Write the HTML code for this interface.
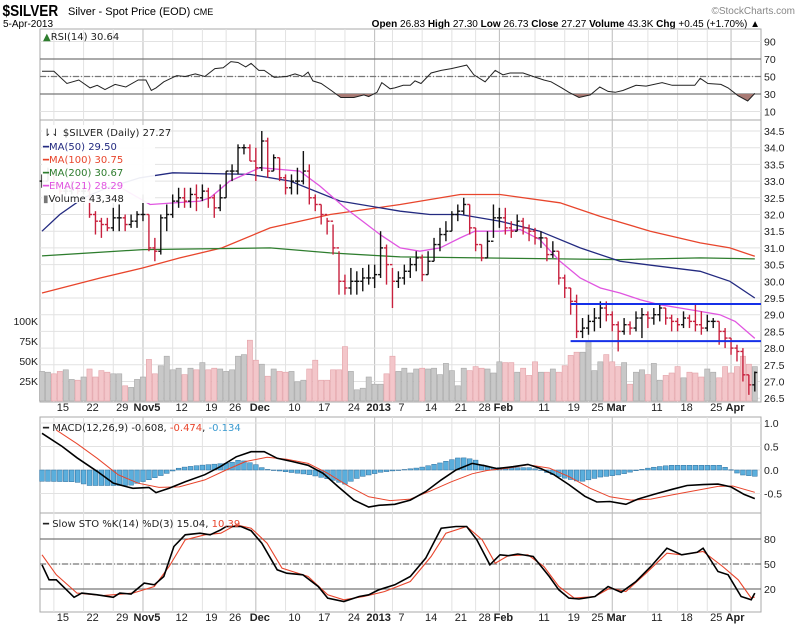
<!DOCTYPE html>
<html><head><meta charset="utf-8"><style>
html,body{margin:0;padding:0;background:#fff;}
svg{display:block;font-family:"Liberation Sans",sans-serif;}
.ax{font-size:10.5px;fill:#222;}
.lg{font-family:"DejaVu Sans",sans-serif;font-size:10px;fill:#222;}
.dt{font-size:11px;fill:#222;}
.mb{font-weight:bold;}
</style></head><body>
<svg id="chart" width="800" height="628" viewBox="0 0 800 628">
<g id="hdr">
<text x="3" y="16" font-size="16" font-weight="bold" transform="scale(0.85,1)">$SILVER</text>
<text x="68" y="15" font-size="11">Silver - Spot Price (EOD) <tspan font-size="9">CME</tspan></text>
<text x="795" y="14" font-size="10" fill="#888" text-anchor="end">©StockCharts.com</text>
<text x="3" y="27" font-size="10">5-Apr-2013</text>
<text x="760" y="27" font-size="10" text-anchor="end"><tspan font-weight="bold">Open</tspan> 26.83 <tspan font-weight="bold">High</tspan> 27.30 <tspan font-weight="bold">Low</tspan> 26.73 <tspan font-weight="bold">Close</tspan> 27.27 <tspan font-weight="bold">Volume</tspan> 43.3K <tspan font-weight="bold">Chg</tspan> +0.45 (+1.70%) ▲</text>
</g>
<g id="grid"></g>
<g id="marks"></g>
<g id="labels"></g>
</svg>
<script>
const closes=[33.0,33.2,32.9,32.7,32.7,32.8,32.7,32.7,32.0,31.8,31.7,31.6,31.9,31.9,31.7,31.8,32.0,32.0,31.0,30.9,
31.9,32.0,32.4,32.5,32.4,32.6,32.5,32.7,32.5,32.2,32.5,33.3,33.3,34.0,34.0,33.6,33.4,34.2,33.3,33.7,
33.1,32.8,33.0,33.0,33.3,32.5,32.3,32.0,31.8,31.0,30.0,29.8,30.0,30.0,30.1,30.1,30.2,31.0,30.5,30.0,
30.1,30.3,30.5,30.7,30.2,30.6,31.1,31.4,31.5,32.0,32.1,32.3,31.6,31.1,30.7,31.2,31.9,31.9,31.6,31.5,
31.8,31.6,31.5,31.3,31.3,30.8,30.9,30.1,29.8,29.4,28.5,28.6,28.8,28.9,29.2,29.0,28.7,28.5,28.7,28.6,
28.9,29.0,28.9,29.0,29.2,28.9,28.8,28.7,28.9,28.8,28.7,28.6,28.8,28.8,28.5,28.3,28.0,27.9,27.2,26.9,27.27];
const highs=[33.2,33.4,33.3,32.9,32.9,33.0,32.9,32.9,32.8,32.1,31.9,31.9,32.2,32.3,32.0,32.0,32.1,32.6,32.0,31.3,
32.0,32.3,32.6,32.8,32.8,32.8,32.9,32.9,32.8,32.6,32.9,33.3,33.5,34.1,34.1,34.1,34.0,34.5,34.3,33.8,
33.7,33.2,33.2,33.4,33.9,33.5,32.6,32.3,31.9,31.7,30.9,30.2,30.4,30.3,30.4,30.5,30.5,31.5,31.1,30.4,
30.3,30.5,30.7,30.9,30.8,30.9,31.3,31.6,31.8,32.1,32.3,32.5,32.3,31.6,31.1,31.5,32.3,32.2,32.2,31.8,
32.0,31.9,31.7,31.6,31.5,31.3,31.2,30.9,30.2,29.8,29.6,28.9,29.0,29.2,29.4,29.4,29.1,28.8,28.9,28.8,
29.1,29.2,29.1,29.2,29.3,29.2,29.0,28.9,29.1,29.0,29.3,29.1,29.0,28.9,28.8,28.6,28.3,28.1,28.0,27.2,27.3];
const lows=[32.8,33.0,32.8,32.6,32.6,32.6,32.6,32.6,31.9,31.4,31.3,31.5,31.5,31.5,31.5,31.6,31.6,31.8,30.9,30.6,
30.8,31.5,31.9,32.2,32.2,32.2,32.1,32.4,32.2,31.9,32.1,32.5,33.0,33.2,33.8,33.6,33.0,33.3,33.1,33.3,
33.0,32.6,32.6,32.6,32.9,32.3,32.1,31.7,31.4,30.8,29.6,29.6,29.6,29.6,29.7,29.9,29.8,30.1,29.9,29.2,
29.8,29.9,30.1,30.3,30.0,30.2,30.6,30.9,31.2,31.5,31.8,32.0,31.4,30.9,30.6,30.7,31.3,31.6,31.4,31.3,
31.5,31.4,31.2,31.1,31.0,30.6,30.7,29.9,29.5,29.0,28.3,28.3,28.4,28.5,28.6,28.8,28.5,27.9,28.4,28.4,
28.5,28.3,28.6,28.7,28.8,28.7,28.5,28.5,28.6,28.6,28.5,28.4,28.5,28.6,28.1,28.0,27.8,27.6,27.0,26.6,26.7];
const volumes=[37,36,34,37,39,27,26,30,40,30,38,36,34,34,19,17,27,30,52,34,
44,56,39,41,33,41,39,48,39,41,40,37,39,56,58,76,51,46,31,40,
37,36,37,24,26,40,51,26,26,39,39,68,37,14,16,30,21,21,34,56,
37,41,35,40,41,40,41,33,47,38,19,41,38,43,41,40,35,49,48,48,
36,41,32,49,36,36,40,36,44,57,61,61,74,38,49,58,49,43,48,21,
36,39,33,47,26,32,35,43,29,36,35,30,40,36,29,43,35,43,56,46,43];
const ma50Idx=[0,3,7,11,16.5,22,35,41.8,50.2,60.3,65.3,70.4,77.1,83.8,90.6,97.3,104,110.8,115.8,120];
const ma50Val=[31.5,32.0,32.5,32.8,33.1,33.25,33.2,33.0,32.4,32.1,32.0,32.0,31.8,31.5,31.0,30.6,30.45,30.3,30.0,29.5];
const ma100Idx=[0,9.8,17,23.2,30.3,38.4,48.5,60.3,70.4,77.1,87.2,93.9,102.4,110.8,115.8,120];
const ma100Val=[29.65,30.1,30.4,30.7,31.0,31.6,32.0,32.3,32.6,32.6,32.35,31.95,31.5,31.15,31.0,30.75];
const ma200Idx=[0,17,38.4,48.5,60.3,87.2,97.3,110.8,120];
const ma200Val=[30.76,30.95,31.0,30.85,30.73,30.67,30.65,30.7,30.67];
const emaIdx=[12.3,18.2,26.6,28.3,31.6,36.7,43.4,46.8,51,56.9,60.3,63.6,67,70.4,72.9,77.1,80.5,83.8,87.2,90.6,94,97.3,100.7,104,107.4,110.8,114.1,116.7,120];
const emaVal=[32.9,32.3,32.4,32.5,33.0,33.4,33.3,32.85,32.2,31.4,31.0,30.9,31.0,31.3,31.5,31.5,31.55,31.25,30.6,30.1,29.8,29.65,29.45,29.3,29.2,29.1,29.0,28.8,28.29];
const rsiIdx=[0,2,4.2,6.2,8.1,9.3,10.6,12.3,14.1,16.2,17.5,18.4,19.2,20.5,22.7,24.1,25.8,27.4,29.1,30.5,31.8,33,34.3,35.2,36.5,37.4,39.1,41.2,42.6,43.9,44.8,45.6,47,48.7,50.3,52.5,54.2,55,56.4,57.2,58.6,59.4,60.8,62,62.8,63.8,65.5,67.2,68.9,70.2,71.5,72.7,74.6,76.3,77.6,78.8,81,82.7,84.5,85.7,87.5,88.7,90.4,92.3,93.9,95.3,96.5,97.8,100,101.7,104.4,106.1,108.2,109.9,110.8,112.1,114.3,115.5,117.2,118.8,120];
const rsiVal=[56,56,42,46,37,40,35,41,38,46,46,34,37,44,51,50,53,50,59,60,67,66,61,65,57,57,49,50,53,50,55,45,42,34,26,26,29,27,32,43,36,37,40,40,45,42,54,57,59,61,63,52,44,57,52,54,54,50,46,44,37,32,26,29,38,33,32,34,40,39,43,40,40,40,48,42,41,37,28,22,30.64];
const macdIdx=[0,3.4,5.9,9.3,12,15.3,18,19.2,21.4,24.1,27.4,30,32.7,35.2,37.4,39.6,42.1,44.8,47.3,49.8,52.5,55,56.7,59.4,62,64.6,67.2,69.7,72.4,74.6,76.6,79.3,81.8,84,86.2,88.7,91.4,93.4,95.6,98.3,100.3,103,106.1,108.6,111.3,113.8,116,118.2,120];
const macdVal=[0.78,0.50,0.26,-0.03,-0.28,-0.39,-0.37,-0.48,-0.39,-0.25,-0.10,0.07,0.28,0.39,0.39,0.25,0.18,0.10,-0.07,-0.35,-0.64,-0.79,-0.75,-0.73,-0.64,-0.46,-0.21,0,0.14,0.09,0.03,0.07,0.12,0.03,-0.10,-0.31,-0.56,-0.68,-0.67,-0.73,-0.62,-0.52,-0.41,-0.33,-0.31,-0.30,-0.36,-0.52,-0.608];
const sigIdx=[2.4,5.9,9.3,12.8,16.2,19.7,23.1,27.4,31,34.3,37.9,41.2,44.8,48.1,51.7,55,58.6,62,65.5,68.9,72.4,74.9,78.5,81.8,85.4,88.7,92.3,95.6,99.2,102.5,106.1,110.3,113.8,116.3,120];
const sigVal=[0.85,0.56,0.25,-0.10,-0.28,-0.37,-0.36,-0.21,0,0.18,0.27,0.23,0.14,-0.07,-0.35,-0.57,-0.65,-0.62,-0.44,-0.25,-0.08,-0.01,0.04,0.11,0.04,-0.14,-0.39,-0.57,-0.64,-0.62,-0.53,-0.43,-0.35,-0.34,-0.474];
const histIdx=[0,5.6,8,14.8,18.2,21.5,23.2,26.6,31.6,33.3,35.9,37.5,41.8,45.1,48.5,51,53.5,56.9,60.3,63.6,67,70.4,72.9,74.1,75.4,82.2,83.8,87.2,90.6,94,97.3,99.8,102.4,105.7,114.1,115.8,117.5,120];
const histVal=[-0.24,-0.25,-0.33,-0.33,-0.2,-0.05,0.05,0.1,0.15,0.22,0.12,0.02,-0.05,-0.1,-0.2,-0.3,-0.15,-0.05,0,0.05,0.15,0.27,0.22,0.1,0.05,0.05,0,-0.15,-0.25,-0.15,-0.1,-0.02,0.05,0.1,0.1,0.02,-0.1,-0.134];
const kIdx=[0,1.2,2.4,5.4,6.7,9.3,12,13.1,15,17.2,18.9,20.5,22.2,24.1,26.6,28.3,30.1,31,33.5,35.2,37,39.6,41.2,43.9,46.5,48.1,50.8,53.4,55,56.7,59.4,62,64.6,67.2,69.7,71.5,73.2,75.4,77.1,78.5,80.1,82.7,85.4,87,88.7,90.4,93.1,95.3,97.5,100,102.5,105.2,107.7,110.3,111.3,113.8,115.5,117.7,119.4,120];
const kVal=[49,31,31,10,15,13,10,15,14,27,25,35,71,85,87,85,91,95,95,90,75,43,39,37,23,9,5,11,13,19,25,35,57,93,95,95,79,49,61,60,62,59,35,19,9,8,11,23,16,29,47,69,61,64,69,41,37,11,7,15.04];
const dIdx=[0,2.4,5.9,10.3,15.3,18.9,21.4,24.1,27.4,30.1,32.7,35.2,37.9,40.4,44.8,48.1,50.8,54.2,57.7,62,65.5,68,71.5,74.1,76.3,78.5,81.8,84.5,87,89.6,93.1,95.6,98.3,101.7,105.2,107.7,111.3,114.6,117.2,119.4,120];
const dVal=[61,37,15,12,15,23,47,79,85,87,97,93,75,45,35,13,7,11,17,29,59,87,95,79,51,60,61,47,23,9,11,21,17,39,63,61,65,47,31,9,10.39];
const tickIdx=[2,7,12,17,22,27,31,36,41,46,51,56,59,64,69,73,77,83,88,92,96,102,107,112,116];
const tickLbl=['15','22','29','Nov5','12','19','26','Dec','10','17','24','2013','7','14','21','28','Feb','11','19','25','Mar','11','18','25','Apr'];
const priceTicks=[26.5,27.0,27.5,28.0,28.5,29.0,29.5,30.0,30.5,31.0,31.5,32.0,32.5,33.0,33.5,34.0,34.5];
const volTicks=[25,50,75,100];
const rsiTicks=[90,70,50,30,10];
const macdTicks=[1.0,0.5,0.0,-0.5];
const stoTicks=[80,50,20];
const resistance=29.32, support=28.21, rangeStartIdx=90;

const NS='http://www.w3.org/2000/svg';
const L=40,R=761;
const X=i=>42+i*5.94;
const PY=p=>131+(34.5-p)*33.4;
const VY=v=>401-v*0.8;
const RY=v=>120.25-0.875*v;
const MY=v=>470-47*v;
const SY=v=>539+(80-v)*0.833;
function el(tag,attrs,parent){const e=document.createElementNS(NS,tag);for(const k in attrs)e.setAttribute(k,attrs[k]);parent.appendChild(e);return e;}
const G=document.getElementById('grid'),M=document.getElementById('marks'),T=document.getElementById('labels');
function lerp(idx,val,i){if(i<=idx[0])return val[0];for(let k=1;k<idx.length;k++){if(i<=idx[k]){const t=(i-idx[k-1])/(idx[k]-idx[k-1]);return val[k-1]+t*(val[k]-val[k-1]);}}return val[val.length-1];}
function pts(idx,val,fy){return idx.map((d,k)=>X(d).toFixed(1)+','+fy(val[k]).toFixed(1)).join(' ');}

const panels=[[29,120,'rsi-panel'],[120,402,'price-panel'],[417,513,'macd-panel'],[513,612,'sto-panel']];
panels.forEach(p=>{const r=el('rect',{x:L,y:p[0],width:R-L,height:p[1]-p[0],fill:'#fff',stroke:'#aaa','stroke-width':1},G);
});
tickIdx.forEach((d,k)=>{const dark=/[A-Za-z]|2013/.test(tickLbl[k]);
panels.forEach(p=>{const ln=el('line',{x1:X(d),x2:X(d),y1:p[0],y2:p[1],stroke:dark?'#bbb':'#e2e2e2','stroke-width':1},G);
});
[411,621].forEach(yy=>{const t=el('text',{x:X(d)+(dark?4:9),y:yy,'text-anchor':'middle',class:'dt'+(dark?' mb':'')},T);
t.textContent=tickLbl[k];});});
function hgrid(ticks,fy,fmt){ticks.forEach(v=>{const y=fy(v);const ln=el('line',{x1:L,x2:R,y1:y,y2:y,stroke:'#e2e2e2'},G);

const t=el('text',{x:764,y:y+4,class:'ax'},T);t.textContent=fmt(v);});}
hgrid(priceTicks,PY,v=>v.toFixed(1));
hgrid(rsiTicks,RY,v=>String(v));
hgrid(macdTicks,MY,v=>v.toFixed(1));
hgrid(stoTicks,SY,v=>String(v));
volTicks.forEach(v=>{const t=el('text',{x:38,y:VY(v)+4,'text-anchor':'end',class:'ax'},T);t.textContent=v+'K';
});
[[RY(70),''],[RY(30),''],[RY(50),'6,2,1,2'],[SY(80),''],[SY(20),''],[SY(50),'6,2,1,2']].forEach(r=>{
const ln=el('line',{x1:L,x2:R,y1:r[0],y2:r[0],stroke:'#777','stroke-width':1.2,'stroke-dasharray':r[1]},G);
});
closes.forEach((c,i)=>{const down=i>0&&c<closes[i-1];const y=VY(volumes[i]);
const r=el('rect',{x:X(i)-2.6,y:y,width:5.2,height:401-y,fill:down?'#f3c6ca':'#c8c8c8',stroke:down?'#e3a2a8':'#a8a8a8','stroke-width':0.6},M);
});
[[ma100Idx,ma100Val,'#e8452c','ma100-line'],[ma200Idx,ma200Val,'#2e7d2e','ma200-line'],[ma50Idx,ma50Val,'#232a80','ma50-line'],[emaIdx,emaVal,'#e055e0','ema21-line']].forEach(s=>{
const pl=el('polyline',{points:pts(s[0],s[1],PY),fill:'none',stroke:s[2],'stroke-width':1.3},M);
});
closes.forEach((c,i)=>{const o=i>0?closes[i-1]:c;const down=i>0&&c<closes[i-1];const col=down?'#c8213e':'#111';const x=X(i);
const g=el('g',{stroke:col,'stroke-width':1.4},M);
el('line',{x1:x,x2:x,y1:PY(highs[i]),y2:PY(lows[i])},g);
el('line',{x1:x-2.5,x2:x,y1:PY(o),y2:PY(o)},g);
el('line',{x1:x,x2:x+2.5,y1:PY(c),y2:PY(c)},g);});
[[resistance,'resistance-line'],[support,'support-line']].forEach(s=>{const ln=el('line',{x1:X(rangeStartIdx)-6,x2:R,y1:PY(s[0]),y2:PY(s[0]),stroke:'#1530e8','stroke-width':2},M);
});
const defs=el('defs',{},M);const cp=el('clipPath',{id:'below30'},defs);el('rect',{x:L,y:RY(30),width:R-L,height:120-RY(30)},cp);
const rp=pts(rsiIdx,rsiVal,RY);
const fl=el('polygon',{points:X(rsiIdx[0])+','+RY(30)+' '+rp+' '+X(rsiIdx[rsiIdx.length-1])+','+RY(30),fill:'#a87a74','clip-path':'url(#below30)'},M);

const rl=el('polyline',{points:rp,fill:'none',stroke:'#222','stroke-width':1},M);
closes.forEach((c,i)=>{const v=lerp(histIdx,histVal,i);const y0=MY(0),y=MY(v);
const r=el('rect',{x:X(i)-2.4,y:Math.min(y,y0),width:4.8,height:Math.max(0.5,Math.abs(y-y0)),fill:'#5aaedc',stroke:'#2f6f9e','stroke-width':0.5},M);
});
const sl=el('polyline',{points:pts(sigIdx,sigVal,MY),fill:'none',stroke:'#e8452c','stroke-width':1},M);
const ml=el('polyline',{points:pts(macdIdx,macdVal,MY),fill:'none',stroke:'#000','stroke-width':1.6},M);
const dl=el('polyline',{points:pts(dIdx,dVal,SY),fill:'none',stroke:'#e8452c','stroke-width':1.1},M);
const kl=el('polyline',{points:pts(kIdx,kVal,SY),fill:'none',stroke:'#000','stroke-width':1.6},M);
function legend(x,y,html,name){const t=el('text',{x:x,y:y,class:'lg'},T);t.innerHTML=html;return t;}
const lb=el('rect',{x:42,y:125,width:113,height:78,fill:'#fff','fill-opacity':0.92},T);
legend(43,40,'<tspan fill="#2e7d2e">▲</tspan>RSI(14) 30.64','rsi-legend');
legend(43,136,'⇂⇃ $SILVER (Daily) 27.27','price-legend');
legend(43,150,'<tspan fill="#232a80">━MA(50) 29.50</tspan>','legend-ma50');
legend(43,163,'<tspan fill="#e8452c">━MA(100) 30.75</tspan>','legend-ma100');
legend(43,176,'<tspan fill="#2e7d2e">━MA(200) 30.67</tspan>','legend-ma200');
legend(43,189,'<tspan fill="#e055e0">━EMA(21) 28.29</tspan>','legend-ema21');
legend(43,202,'<tspan fill="#777">▮</tspan>Volume 43,348','legend-volume');
legend(43,431,'━ MACD(12,26,9) -0.608, <tspan fill="#e8452c">-0.474</tspan>, <tspan fill="#3a9ad0">-0.134</tspan>','macd-legend');
legend(43,527,'━ Slow STO %K(14) %D(3) 15.04, <tspan fill="#e8452c">10.39</tspan>','sto-legend');
</script>
</body></html>
